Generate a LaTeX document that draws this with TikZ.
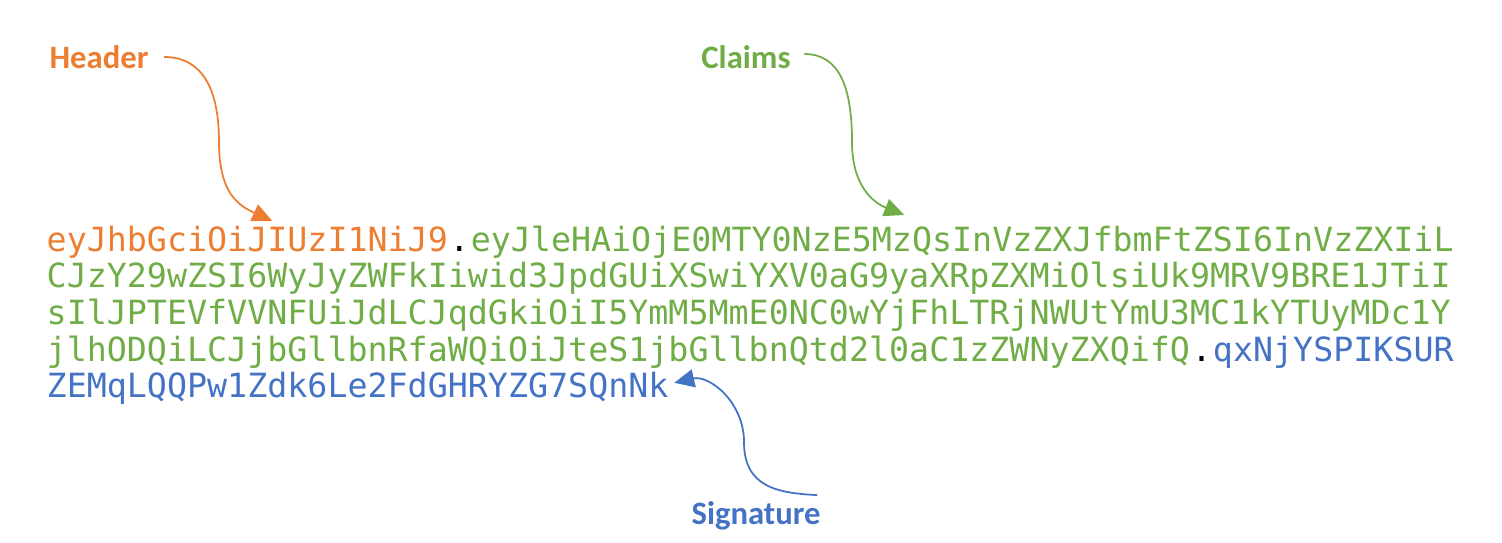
\documentclass[tikz,border=0pt]{standalone}
\usepackage{fontspec}
\usetikzlibrary{arrows.meta,positioning}
\definecolor{jwtorange}{RGB}{237,125,49}
\definecolor{jwtgreen}{RGB}{112,173,71}
\definecolor{jwtblue}{RGB}{68,114,196}
\newfontfamily\tokfont{DejaVu Sans Mono}
\newfontfamily\lblfont{Carlito}

\begin{document}
\begin{tikzpicture}[
        tok/.style={inner sep=0pt,anchor=base west,font=\tokfont\fontsize{9.48pt}{10.4pt}\selectfont},
        lbl/.style={inner sep=0pt,font=\lblfont\bfseries\fontsize{9.3pt}{11pt}\selectfont},
        arrow/.style={-{Triangle[length=2mm,width=1.8mm]},line width=0.5pt}]
        \useasboundingbox (0,0) rectangle (15.02,5.42);
        % the token, line by line
        \node[tok,text=jwtorange] (hdr) at (0.46,2.91) {eyJhbGciOiJIUzI1NiJ9};
        \node[tok] (dot1) at (hdr.base east) {.};
        \node[tok,text=jwtgreen] (cl1) at (dot1.base east) {eyJleHAiOjE0MTY0NzE5MzQsInVzZXJfbmFtZSI6InVzZXIiL};
        \node[tok,text=jwtgreen] (cl2) at (0.46,2.543) {CJzY29wZSI6WyJyZWFkIiwid3JpdGUiXSwiYXV0aG9yaXRpZXMiOlsiUk9MRV9BRE1JTiI};
        \node[tok,text=jwtgreen] (cl3) at (0.46,2.176) {sIlJPTEVfVVNFUiJdLCJqdGkiOiI5YmM5MmE0NC0wYjFhLTRjNWUtYmU3MC1kYTUyMDc1Y};
        \node[tok,text=jwtgreen] (cl4) at (0.46,1.809) {jlhODQiLCJjbGllbnRfaWQiOiJteS1jbGllbnQtd2l0aC1zZWNyZXQifQ};
        \node[tok] (dot2) at (cl4.base east) {.};
        \node[tok,text=jwtblue] (sg1) at (dot2.base east) {qxNjYSPIKSUR};
        \node[tok,text=jwtblue] (sg2) at (0.46,1.442) {ZEMqLQQPw1Zdk6Le2FdGHRYZG7SQnNk};
        % labels
        \node[lbl,text=jwtorange] (header) at (0.99,4.85) {Header};
        \node[lbl,text=jwtgreen] (claims) at (7.46,4.85) {Claims};
        \node[lbl,text=jwtblue] (signature) at (7.56,0.26) {Signature};
        % arrow ends and bends
        \coordinate (hdrtip) at ([xshift=0.25cm,yshift=0.30cm]hdr.base);
        \coordinate (hdrbend) at (2.19,4.0);
        \coordinate (cltip) at ([xshift=-0.58cm,yshift=0.36cm]cl1.base);
        \coordinate (clbend) at (8.52,4.0);
        \coordinate (sgtip) at ([xshift=0.05cm,yshift=0.15cm]sg2.base east);
        \coordinate (sgbend) at (7.44,1.0);
        \draw[arrow,jwtorange] ([xshift=0.15cm]header.east) .. controls +(0.4,0) and +(0,0.5) .. (hdrbend)
          .. controls +(0,-0.5) and +(-0.35,0.16) .. (hdrtip);
        \draw[arrow,jwtgreen] ([xshift=0.13cm,yshift=0.03cm]claims.east) .. controls +(0.35,0) and +(0,0.55) .. (clbend)
          .. controls +(0,-0.45) and +(-0.3,0.12) .. (cltip);
        \draw[arrow,jwtblue] ([xshift=-0.04cm,yshift=0.06cm]signature.north east) .. controls +(-0.4,0.02) and +(0,-0.45) .. (sgbend)
          .. controls +(0,0.4) and +(0.35,0.08) .. (sgtip);
      \end{tikzpicture}
\end{document}
